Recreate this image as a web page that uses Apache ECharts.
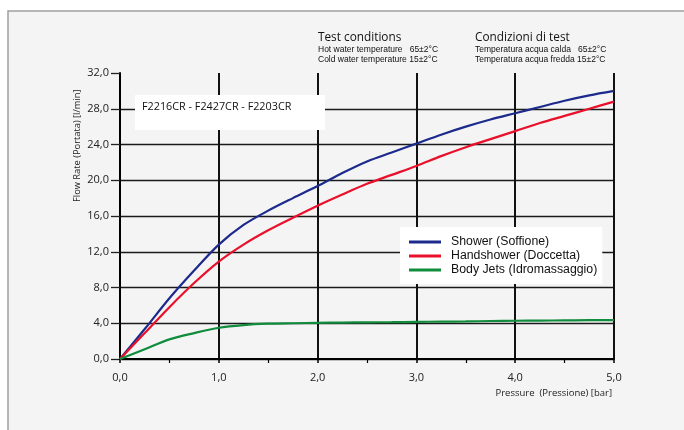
<!DOCTYPE html>
<html>
<head>
<meta charset="utf-8">
<script src="https://cdn.jsdelivr.net/npm/echarts@6/dist/echarts.min.js"></script>
<style>html,body{margin:0;padding:0;background:#fff}#c{width:684px;height:430px}</style>
</head>
<body>
<div id="c"></div>
<script>
var pressure = [0, 0.25, 0.5, 0.75, 1.0, 1.25, 1.5, 1.75, 2.0, 2.25, 2.5, 2.75, 3.0, 3.25, 3.5, 3.75, 4.0, 4.25, 4.5, 4.75, 5.0];
var shower = [0, 3.35, 6.8, 9.9, 12.8, 15.0, 16.6, 18.0, 19.35, 20.8, 22.1, 23.1, 24.1, 25.1, 26.0, 26.8, 27.5, 28.2, 28.9, 29.5, 30.0];
var handshower = [0, 2.9, 5.8, 8.5, 10.9, 12.8, 14.4, 15.8, 17.15, 18.4, 19.6, 20.6, 21.6, 22.7, 23.7, 24.6, 25.5, 26.4, 27.2, 28.0, 28.8];
var bodyJets = [0, 1.1, 2.2, 2.9, 3.5, 3.8, 3.95, 4.0, 4.05, 4.08, 4.1, 4.12, 4.15, 4.18, 4.2, 4.25, 4.28, 4.3, 4.32, 4.35, 4.35];
var seriesNames = ['Shower (Soffione)', 'Handshower (Doccetta)', 'Body Jets (Idromassaggio)'];
var seriesColors = ['#1b2a8c', '#e8102a', '#108c3c'];
var modelText = 'F2216CR - F2427CR - F2203CR';

function pairs(ys){ return pressure.map(function(x,i){ return [x, ys[i]]; }); }
function fmt(v){ return v.toFixed(1).replace('.', ','); }

var chart = echarts.init(document.getElementById('c'), null, {renderer:'canvas'});
var lineFont = 'Open Sans';
var series = [shower, handshower, bodyJets].map(function(d,i){
  return {
    name: seriesNames[i], type: 'line', data: pairs(d), smooth: 0.3,
    showSymbol: false, symbol: 'none',
    lineStyle: {color: seriesColors[i], width: 2.2},
    itemStyle: {color: seriesColors[i]}, z: 5
  };
});

chart.setOption({
  backgroundColor: 'transparent',
  animation: false,
  grid: {left: 120, right: 70, top: 73, bottom: 71, containLabel: false},
  xAxis: {
    type: 'value', min: 0, max: 5, interval: 1,
    axisLine: {show: true, onZero: false, lineStyle: {color: '#000', width: 2}},
    axisTick: {show: true, length: 4, lineStyle: {color: '#000', width: 1.5}},
    minorTick: {show: true, splitNumber: 2, length: 4, lineStyle: {color: '#000', width: 1.2}},
    splitLine: {show: true, lineStyle: {color: '#111', width: 2}},
    axisLabel: {formatter: fmt, fontFamily: lineFont, fontSize: 11, color: '#222', margin: 13}
  },
  yAxis: {
    type: 'value', min: 0, max: 32, interval: 4,
    axisLine: {show: true, lineStyle: {color: '#000', width: 2}},
    axisTick: {show: true, length: 9, lineStyle: {color: '#222', width: 1.3}},
    splitLine: {show: true, showMaxLine: false, lineStyle: {color: '#1a1a1a', width: 1.3}},
    axisLabel: {formatter: fmt, fontFamily: lineFont, fontSize: 11, color: '#222', margin: 11}
  },
  legend: {
    orient: 'vertical', left: 400, top: 227,
    data: seriesNames,
    backgroundColor: '#ffffff', padding: [8, 5, 7, 9],
    itemWidth: 32, itemHeight: 3, itemGap: 0,
    icon: 'rect',
    textStyle: {fontFamily: 'Liberation Sans', fontSize: 12.3, lineHeight: 14, color: '#111', padding: [0,0,0,5]}
  },
  graphic: [
    {type: 'rect', z: -100, silent: true, shape: {x: 8, y: 11, width: 690, height: 430},
     style: {fill: '#f4f4f4', stroke: '#a0a0a0', lineWidth: 1.5}},
    {type: 'rect', z: 3, shape: {x: 135, y: 95, width: 190, height: 35}, style: {fill: '#ffffff'}},
    {type: 'text', z: 4, x: 142, y: 107, style: {text: modelText, fontFamily: lineFont, fontSize: 10.8, fill: '#111', textVerticalAlign: 'middle'}},
    {type: 'text', x: 318, y: 38, style: {text: 'Test conditions', fontFamily: lineFont, fontSize: 11.8, fill: '#111', textVerticalAlign: 'middle'}},
    {type: 'text', x: 318, y: 49.5, style: {text: 'Hot water temperature   65±2°C', fontFamily: 'Liberation Sans', fontSize: 8.5, fill: '#111', textVerticalAlign: 'middle'}},
    {type: 'text', x: 318, y: 59.5, style: {text: 'Cold water temperature 15±2°C', fontFamily: 'Liberation Sans', fontSize: 8.5, fill: '#111', textVerticalAlign: 'middle'}},
    {type: 'text', x: 475, y: 38, style: {text: 'Condizioni di test', fontFamily: lineFont, fontSize: 11.8, fill: '#111', textVerticalAlign: 'middle'}},
    {type: 'text', x: 475, y: 49.5, style: {text: 'Temperatura acqua calda   65±2°C', fontFamily: 'Liberation Sans', fontSize: 8.5, fill: '#111', textVerticalAlign: 'middle'}},
    {type: 'text', x: 475, y: 59.5, style: {text: 'Temperatura acqua fredda 15±2°C', fontFamily: 'Liberation Sans', fontSize: 8.5, fill: '#111', textVerticalAlign: 'middle'}},
    {type: 'text', x: 77, y: 202, rotation: Math.PI/2, style: {text: 'Flow Rate (Portata) [l/min]', fontFamily: lineFont, fontSize: 9.3, fill: '#222', textAlign: 'left', textVerticalAlign: 'middle'}},
    {type: 'text', x: 612, y: 393, style: {text: 'Pressure  (Pressione) [bar]', fontFamily: lineFont, fontSize: 9.5, fill: '#222', textAlign: 'right', textVerticalAlign: 'middle'}}
  ],
  series: series
});
</script>
</body>
</html>
